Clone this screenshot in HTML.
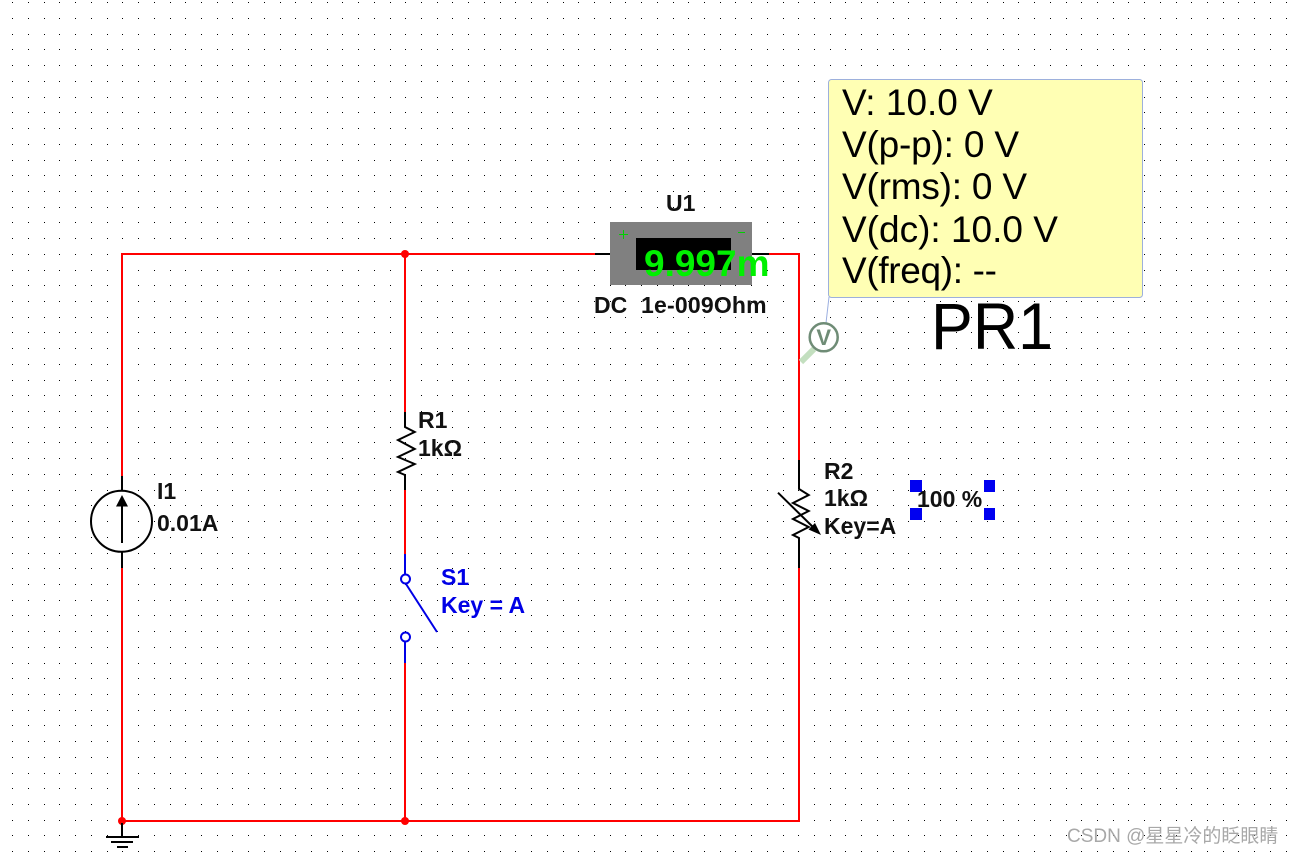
<!DOCTYPE html>
<html>
<head>
<meta charset="utf-8">
<style>
html,body{margin:0;padding:0;background:#fff;}
body{width:1294px;height:854px;overflow:hidden;position:relative;}
svg{position:absolute;left:0;top:0;}
text{font-family:"Liberation Sans","Noto Sans CJK SC",sans-serif;}
.b{font-weight:bold;font-size:23px;fill:#111;}
.t{font-size:37px;fill:#000;}
</style>
</head>
<body>
<svg width="1294" height="854" viewBox="0 0 1294 854" xmlns="http://www.w3.org/2000/svg">
<path id="dots" fill="#000" shape-rendering="crispEdges" d=""></path>
<script>
(function(){var d='';for(var j=0;j<55;j++){var y=Math.round(2.3+15.72*j);for(var i=0;i<83;i++){var x=Math.round(12.3+15.72*i);d+='M'+x+' '+y+'h1v1h-1z';}}document.getElementById('dots').setAttribute('d',d);})();
</script>

<!-- wires -->
<g fill="none" stroke="#f00" stroke-width="2">
<path d="M122 476V254H596"/>
<path d="M769 254H799V460"/>
<path d="M799 568V821H122V568"/>
<path d="M405 254V412"/>
<path d="M405 490V554"/>
<path d="M405 663V821"/>
</g>
<circle cx="405" cy="254" r="4" fill="#f00"/>
<circle cx="122" cy="821" r="4" fill="#f00"/>
<circle cx="405" cy="821" r="4" fill="#f00"/>

<!-- ground -->
<path d="M122 823V836" stroke="#000" stroke-width="2" fill="none"/>
<path d="M106 837H139M111 842H133M117 847H128" stroke="#000" stroke-width="2" fill="none"/>

<!-- I1 -->
<path d="M122 476V491M122 552V568" stroke="#000" stroke-width="2" fill="none"/>
<circle cx="121.500" cy="521.300" r="30.500" fill="none" stroke="#000" stroke-width="2"/>
<path d="M122 543V505" stroke="#000" stroke-width="2" fill="none"/>
<path d="M122 495L128 506.500H116Z" fill="#000"/>
<text class="b" x="157" y="499">I1</text>
<text class="b" x="157" y="531">0.01A</text>

<!-- R1 -->
<path d="M405 412V427L414.700 432L398 440L414.700 449L398 457L414.700 464L398 472L405 475V490" fill="none" stroke="#000" stroke-width="2"/>
<text class="b" x="418" y="428">R1</text>
<text class="b" x="418" y="456">1kΩ</text>

<!-- S1 -->
<g fill="none" stroke="#0000e6" stroke-width="2">
<path d="M405 554V574.500"/>
<circle cx="405.500" cy="579" r="4.500"/>
<path d="M406 584L437 632"/>
<circle cx="405.500" cy="637" r="4.500"/>
<path d="M405 642V663"/>
</g>
<text class="b" x="441" y="585" style="fill:#0000e6">S1</text>
<text class="b" x="441" y="613" style="fill:#0000e6">Key = A</text>

<!-- R2 -->
<path d="M799 460V489L808.700 495L793 503L808.700 511L793 519L808.700 527L793 535L799 538V568" fill="none" stroke="#000" stroke-width="2"/>
<path d="M778 492.700L816 530" fill="none" stroke="#000" stroke-width="2"/>
<path d="M821 535L808.500 529.500L815 523Z" fill="#000"/>
<text class="b" x="824" y="479">R2</text>
<text class="b" x="824" y="506">1kΩ</text>
<text class="b" x="824" y="534">Key=A</text>
<rect x="910" y="480" width="12" height="12" fill="#0000f0"/>
<rect x="910" y="508" width="12" height="12" fill="#0000f0"/>
<rect x="984" y="480" width="11" height="12" fill="#0000f0"/>
<rect x="984" y="508" width="11" height="12" fill="#0000f0"/>
<text class="b" x="917" y="507">100 %</text>

<!-- U1 -->
<path d="M595 254H610M752 254H769" stroke="#000" stroke-width="2" fill="none"/>
<rect x="610" y="222" width="142" height="63" fill="#808080"/>
<rect x="636" y="238" width="95" height="32" fill="#000"/>
<path d="M619 234.500H628M623.500 230V239M738 232.500H745" stroke="#00d000" stroke-width="1" fill="none"/>
<text x="644" y="276" style="font-weight:bold;font-size:37px;fill:#00f000">9.997m</text>
<text class="b" x="666" y="211">U1</text>
<text class="b" x="594" y="313">DC</text>
<text class="b" x="641" y="313" style="letter-spacing:.2px">1e-009Ohm</text>

<!-- probe -->
<path d="M801 362L814 349" stroke="#c3dfbf" stroke-width="6" fill="none"/>
<path d="M829 297L826 323" stroke="#9aaee0" stroke-width="1" fill="none"/>
<circle cx="823.700" cy="337.300" r="14" fill="#fff" stroke="#6f8c76" stroke-width="2.500"/>
<text x="823.700" y="345" text-anchor="middle" style="font-weight:bold;font-size:22px;fill:#6f8c76">V</text>

<!-- tooltip -->
<rect x="828.500" y="79.500" width="314" height="218" rx="3" ry="3" fill="#ffffb4" stroke="#9db0dc" stroke-width="1"/>
<text class="t" x="842" y="115">V: 10.0 V</text>
<text class="t" x="842" y="157" textLength="177">V(p-p): 0 V</text>
<text class="t" x="842" y="199" textLength="185">V(rms): 0 V</text>
<text class="t" x="842" y="242">V(dc): 10.0 V</text>
<text class="t" x="842" y="283" textLength="155">V(freq): --</text>
<text x="931" y="349" textLength="122" lengthAdjust="spacingAndGlyphs" style="font-size:66px;fill:#000">PR1</text>

<!-- watermark -->
<text x="1067" y="842" style="font-size:19px;fill:#a8a8a8">CSDN @星星冷的眨眼睛</text>
</svg>
</body>
</html>
